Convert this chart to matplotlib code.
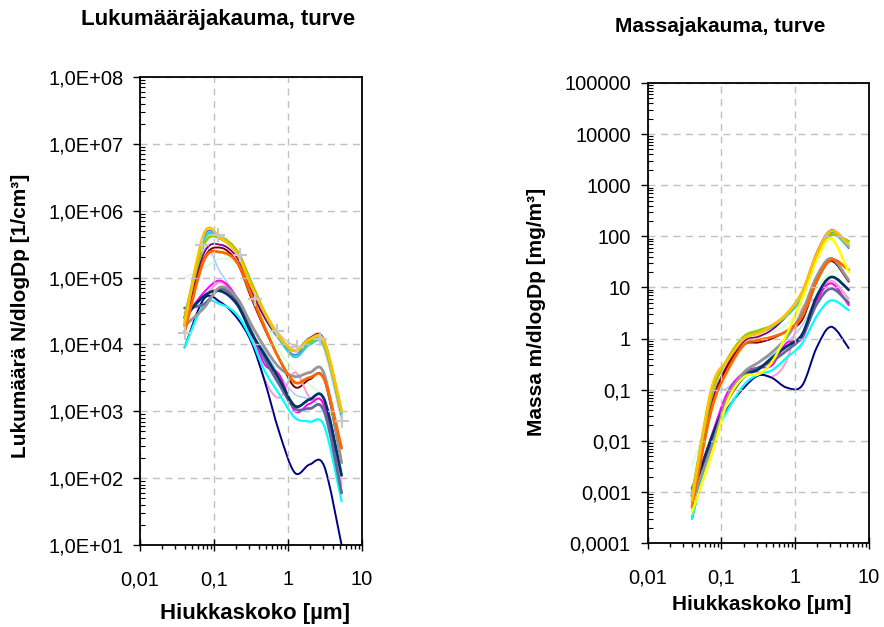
import numpy as np
import matplotlib
matplotlib.use("Agg")
import matplotlib.pyplot as plt
from matplotlib.path import Path
from matplotlib.patches import PathPatch
from matplotlib.ticker import LogLocator, FixedLocator, FuncFormatter, NullFormatter

plt.rcParams['font.family'] = ['Liberation Sans', 'DejaVu Sans']

# particle size (um), channel midpoints
dp = [0.04, 0.073, 0.122, 0.204, 0.318, 0.485, 0.764, 1.24, 1.96, 3.09, 5.3]

# number size distribution N/dlogDp [1/cm3]
n_gold = [2.0e4, 4.5e5, 3.9e5, 2.3e5, 7.5e4, 3.0e4, 1.3e4, 8.0e3, 1.2e4, 1.1e4, 1.0e3]
n_green = [2.5e4, 3.1e5, 3.9e5, 2.5e5, 8.5e4, 3.0e4, 1.3e4, 8.0e3, 1.1e4, 1.0e4, 1.0e3]
n_blue = [2.3e4, 4.1e5, 3.8e5, 2.3e5, 7.5e4, 2.8e4, 1.2e4, 7.0e3, 1.1e4, 1.0e4, 8.5e2]
n_teal = [2.5e4, 3.7e5, 3.8e5, 2.4e5, 8.0e4, 2.9e4, 1.2e4, 6.5e3, 1.0e4, 9.5e3, 9.0e2]
n_purple = [2.2e4, 2.3e5, 3.1e5, 2.0e5, 6.5e4, 2.5e4, 1.2e4, 8.0e3, 1.25e4, 1.15e4, 9.0e2]
n_ltblue = [2.0e4, 2.6e5, 1.2e5, 5.0e4, 2.0e4, 8.0e3, 3.5e3, 1.8e3, 1.5e3, 9.0e2, 8.0e1]
n_ltgreen = [1.0e5, 1.4e5, 1.9e5, 1.6e5, 6.0e4, 2.2e4, 8.0e3, 4.0e3, 2.5e3, 1.5e3, 3.0e2]
n_darkred = [2.0e4, 1.9e5, 2.8e5, 1.7e5, 5.0e4, 1.7e4, 6.0e3, 2.3e3, 3.0e3, 3.0e3, 1.7e2]
n_orange = [1.5e4, 1.8e5, 2.4e5, 1.7e5, 5.5e4, 1.8e4, 6.0e3, 2.7e3, 3.2e3, 3.0e3, 2.8e2]
n_magenta = [2.5e4, 6.0e4, 9.0e4, 5.0e4, 1.6e4, 5.0e3, 3.5e3, 1.0e3, 1.3e3, 1.2e3, 6.0e1]
n_pink = [3.0e4, 5.0e4, 8.5e4, 4.5e4, 1.3e4, 3.0e3, 1.6e3, 3.8e3, 1.6e3, 1.2e3, 8.0e1]
n_navy = [9.0e3, 4.8e4, 4.3e4, 2.5e4, 1.1e4, 2.8e3, 4.8e2, 1.2e2, 1.6e2, 1.5e2, 1.0e1]
n_cyan = [9.0e3, 4.0e4, 4.0e4, 2.8e4, 1.2e4, 4.0e3, 1.8e3, 8.0e2, 7.0e2, 6.0e2, 4.5e1]
n_dkslate = [2.5e4, 5.3e4, 6.3e4, 4.0e4, 1.5e4, 7.0e3, 3.0e3, 1.2e3, 1.5e3, 1.5e3, 1.1e2]
n_gray = [1.9e4, 3.5e4, 7.2e4, 5.0e4, 2.0e4, 9.0e3, 4.5e3, 3.3e3, 3.8e3, 3.6e3, 1.7e2]
n_slate = [3.5e4, 4.0e4, 6.8e4, 4.5e4, 1.6e4, 6.0e3, 2.5e3, 1.1e3, 1.1e3, 1.0e3, 6.0e1]

# averaged series drawn with markers
dp_avg = [0.04, 0.068, 0.114, 0.224, 0.357, 0.70, 1.34, 2.7, 5.3]
n_avg = [1.5e4, 3.1e5, 4.4e5, 2.2e5, 4.8e4, 1.6e4, 9.3e3, 1.2e4, 7.2e2]

# mass size distribution m/dlogDp [mg/m3]
m_gold = [6.7e-4, 0.10, 0.38, 1.0, 1.26, 1.8, 3.0, 8.0, 45, 128, 68]
m_green = [8.4e-4, 0.073, 0.40, 1.1, 1.43, 1.8, 3.0, 8.0, 42, 105, 80]
m_blue = [7.7e-4, 0.092, 0.38, 1.0, 1.26, 1.67, 2.8, 7.0, 42, 120, 58]
m_teal = [8.4e-4, 0.086, 0.39, 1.07, 1.35, 1.73, 2.8, 6.5, 39, 112, 62]
m_purple = [7.4e-4, 0.051, 0.31, 0.89, 1.09, 1.49, 2.8, 8.0, 48, 132, 68]
m_yellow = [4.0e-4, 5.0e-3, 0.06, 0.18, 0.2, 0.35, 1.2, 6.0, 35, 90, 20]
m_ltblue = [6.7e-4, 0.055, 0.11, 0.22, 0.34, 0.48, 0.82, 1.8, 5.9, 12, 6.0]
m_ltgreen = [3.4e-3, 0.031, 0.19, 0.71, 1.0, 1.3, 1.9, 4.0, 9.9, 20, 23]
m_darkred = [6.7e-4, 0.041, 0.29, 0.76, 0.84, 1.0, 1.4, 2.3, 13, 33, 13]
m_orange = [5.0e-4, 0.039, 0.24, 0.76, 0.93, 1.07, 1.4, 2.7, 13.4, 35, 22]
m_magenta = [8.4e-4, 0.012, 0.09, 0.22, 0.27, 0.3, 0.82, 1.0, 5.5, 12, 4.5]
m_pink = [1.0e-3, 0.010, 0.086, 0.2, 0.22, 0.18, 0.37, 3.8, 6.3, 13.5, 6.0]
m_navy = [3.0e-4, 0.010, 0.043, 0.11, 0.19, 0.17, 0.11, 0.12, 0.67, 1.7, 0.65]
m_cyan = [3.0e-4, 8.6e-3, 0.04, 0.125, 0.2, 0.24, 0.42, 0.8, 2.76, 5.6, 3.6]
m_dkslate = [8.4e-4, 0.011, 0.062, 0.18, 0.25, 0.42, 0.7, 1.2, 6.7, 16, 9.0]
m_gray = [6.4e-4, 7.1e-3, 0.071, 0.22, 0.34, 0.54, 1.05, 3.3, 16.5, 37, 14]
m_slate = [1.17e-3, 8.2e-3, 0.067, 0.2, 0.27, 0.36, 0.58, 1.1, 4.7, 9.5, 5.0]

# drawing order, colour, line width
styles = [
    ('ltgreen', '#CCFFCC', 1.0),
    ('ltblue', '#99CCFF', 1.0),
    ('blue', '#3366FF', 1.0),
    ('purple', '#800080', 1.3),
    ('darkred', '#800000', 1.4),
    ('pink', '#FF99CC', 1.4),
    ('magenta', '#FF00FF', 1.4),
    ('navy', '#000080', 1.4),
    ('cyan', '#00FFFF', 1.6),
    ('slate', '#666699', 2.0),
    ('dkslate', '#003366', 2.0),
    ('gray', '#969696', 2.0),
    ('orange', '#FF6600', 2.0),
    ('teal', '#33CCCC', 1.8),
    ('green', '#99CC00', 2.0),
    ('yellow', '#FFFF00', 1.8),
    ('gold', '#FFC000', 2.0),
]

W, H = 884, 627


def smooth_path(x, y):
    # Excel-like smoothed line: Catmull-Rom segments as cubic Beziers in log-log space
    lx, ly = np.log10(x), np.log10(y)
    n = len(lx)
    verts = [(lx[0], ly[0])]
    codes = [Path.MOVETO]
    for i in range(n - 1):
        a = max(i - 1, 0)
        b = min(i + 2, n - 1)
        c1 = (lx[i] + (lx[i + 1] - lx[a]) / 6, ly[i] + (ly[i + 1] - ly[a]) / 6)
        c2 = (lx[i + 1] - (lx[b] - lx[i]) / 6, ly[i + 1] - (ly[b] - ly[i]) / 6)
        verts += [c1, c2, (lx[i + 1], ly[i + 1])]
        codes += [Path.CURVE4] * 3
    return Path(10 ** np.array(verts), codes)


def draw_series(ax, x, y, color, lw):
    ax.add_patch(PathPatch(smooth_path(x, y), fill=False, edgecolor=color,
                           lw=lw, capstyle='round', joinstyle='round'))


def style_axes(ax, ylim, yfmt):
    ax.set_xscale('log')
    ax.set_yscale('log')
    ax.set_xlim(0.01, 10)
    ax.set_ylim(*ylim)
    ax.xaxis.set_major_locator(FixedLocator([0.01, 0.1, 1, 10]))
    ax.xaxis.set_minor_locator(LogLocator(base=10, subs=np.arange(2, 10), numticks=50))
    ax.yaxis.set_major_locator(LogLocator(base=10, numticks=50))
    ax.yaxis.set_minor_locator(LogLocator(base=10, subs=np.arange(2, 10), numticks=50))
    ax.xaxis.set_major_formatter(FuncFormatter(lambda v, p: f"{v:g}".replace('.', ',')))
    ax.yaxis.set_major_formatter(FuncFormatter(yfmt))
    ax.xaxis.set_minor_formatter(NullFormatter())
    ax.yaxis.set_minor_formatter(NullFormatter())
    ax.tick_params(axis='x', which='major', direction='inout', length=8, width=1,
                   labelsize=14.5, pad=14)
    ax.tick_params(axis='x', which='minor', direction='out', length=3, width=1)
    ax.tick_params(axis='y', which='major', direction='out', length=5, width=1,
                   labelsize=14.5, pad=7)
    ax.tick_params(axis='y', which='minor', direction='in', length=3.5, width=0.8)
    ax.grid(True, which='major', color='#C0C0C0', lw=1.0, linestyle=(0, (5, 4)))
    for s in ax.spines.values():
        s.set_color('black')
        s.set_linewidth(1.3)


def fmt_number(v, p):
    e = int(round(np.log10(v)))
    return f"1,0E+{e:02d}"


def fmt_mass(v, p):
    e = int(round(np.log10(v)))
    if e >= 0:
        return str(10 ** e)
    return "0," + "0" * (-e - 1) + "1"


fig = plt.figure(figsize=(W / 100, H / 100), dpi=100)
ax1 = fig.add_axes([140 / W, 1 - 545 / H, 222 / W, 468 / H])
ax2 = fig.add_axes([647.5 / W, 1 - 543 / H, 221.5 / W, 460 / H])

number = {'gold': n_gold, 'green': n_green, 'blue': n_blue, 'teal': n_teal,
          'purple': n_purple, 'ltblue': n_ltblue, 'ltgreen': n_ltgreen,
          'darkred': n_darkred, 'orange': n_orange, 'magenta': n_magenta,
          'pink': n_pink, 'navy': n_navy, 'cyan': n_cyan, 'dkslate': n_dkslate,
          'gray': n_gray, 'slate': n_slate}
mass = {'gold': m_gold, 'green': m_green, 'blue': m_blue, 'teal': m_teal,
        'purple': m_purple, 'yellow': m_yellow, 'ltblue': m_ltblue,
        'ltgreen': m_ltgreen, 'darkred': m_darkred, 'orange': m_orange,
        'magenta': m_magenta, 'pink': m_pink, 'navy': m_navy, 'cyan': m_cyan,
        'dkslate': m_dkslate, 'gray': m_gray, 'slate': m_slate}

# left chart: number distribution
draw_series(ax1, dp_avg, n_avg, '#C8C8C8', 1.0)
ax1.plot(dp_avg, n_avg, linestyle='none', marker='+', ms=10, mew=1.5, color='#C8C8C8')
for name, color, lw in styles:
    if name in number:
        draw_series(ax1, dp, number[name], color, lw)
style_axes(ax1, (1e1, 1e8), fmt_number)

# right chart: mass distribution
for name, color, lw in styles:
    if name in mass:
        draw_series(ax2, dp, mass[name], color, lw)
style_axes(ax2, (1e-4, 1e5), fmt_mass)

# titles and axis labels
fig.text(218 / W, 1 - 20 / H, "Lukumääräjakauma, turve", ha='center', va='center',
         fontsize=16, fontweight='bold')
fig.text(720 / W, 1 - 26 / H, "Massajakauma, turve", ha='center', va='center',
         fontsize=15, fontweight='bold')
fig.text(255 / W, 1 - 614 / H, "Hiukkaskoko [µm]", ha='center', va='center',
         fontsize=16, fontweight='bold')
fig.text(762 / W, 1 - 605 / H, "Hiukkaskoko [µm]", ha='center', va='center',
         fontsize=15, fontweight='bold')
fig.text(21 / W, 1 - 316 / H, "Lukumäärä N/dlogDp [1/cm³]", ha='center', va='center',
         rotation=90, fontsize=15, fontweight='bold')
fig.text(537 / W, 1 - 312 / H, "Massa m/dlogDp [mg/m³]", ha='center', va='center',
         rotation=90, fontsize=15, fontweight='bold')

fig.savefig("out.png", dpi=100)
